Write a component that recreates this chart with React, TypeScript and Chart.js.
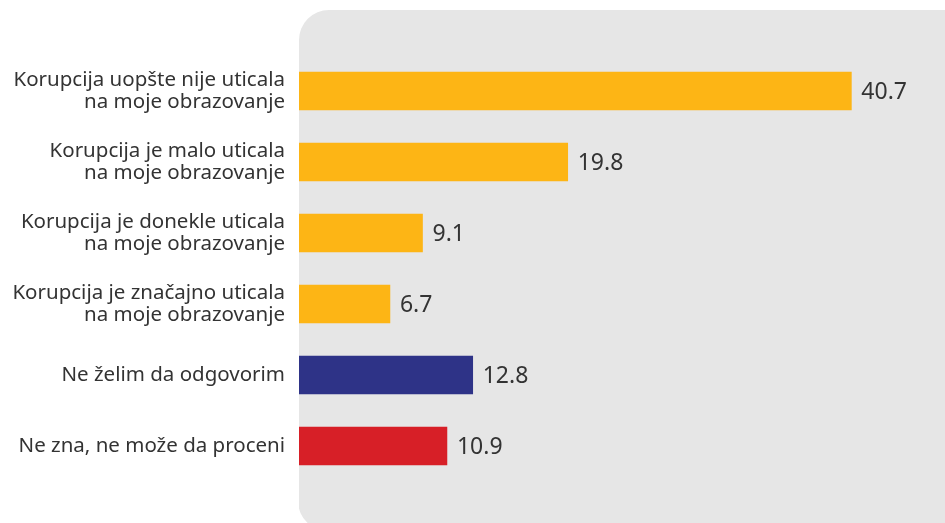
import React, { useEffect, useRef } from "react";
import { Chart, registerables } from "chart.js";

Chart.register(...registerables);

const categories: string[][] = [
  ["Korupcija uopšte nije uticala", "na moje obrazovanje"],
  ["Korupcija je malo uticala", "na moje obrazovanje"],
  ["Korupcija je donekle uticala", "na moje obrazovanje"],
  ["Korupcija je značajno uticala", "na moje obrazovanje"],
  ["Ne želim da odgovorim"],
  ["Ne zna, ne može da proceni"],
];
const values: number[] = [40.7, 19.8, 9.1, 6.7, 12.8, 10.9];
const barColors: string[] = ["#FDB515", "#FDB515", "#FDB515", "#FDB515", "#2E3387", "#D71F27"];

const FONT = "'Noto Sans', sans-serif";

const bgPlugin = {
  id: "bgPanel",
  beforeDraw(chart: any) {
    const { ctx, chartArea } = chart;
    const x = chartArea.left;
    const y = 10;
    const w = chart.width - x + 40;
    const h = chart.height - y + 40;
    const r = 30;
    ctx.save();
    ctx.fillStyle = "#E6E6E6";
    ctx.beginPath();
    ctx.moveTo(x + r, y);
    ctx.lineTo(x + w, y);
    ctx.lineTo(x + w, y + h);
    ctx.lineTo(x, y + h);
    ctx.lineTo(x, y + r);
    ctx.arcTo(x, y, x + r, y, r);
    ctx.closePath();
    ctx.fill();
    ctx.restore();
  },
};

const bgPlugin2 = {
  id: "bgPanelBottom",
  beforeDraw(chart: any) {
    const { ctx, chartArea } = chart;
    const x = chartArea.left;
    const bottom = chart.height + 8;
    const r = 30;
    ctx.save();
    ctx.fillStyle = "#FFFFFF";
    ctx.beginPath();
    ctx.moveTo(x - 1, bottom - r);
    ctx.arcTo(x, bottom, x + r, bottom, r);
    ctx.lineTo(x - 1, bottom);
    ctx.closePath();
    ctx.fill();
    ctx.restore();
  },
};

const valueLabels = {
  id: "valueLabels",
  afterDatasetsDraw(chart: any) {
    const { ctx } = chart;
    const meta = chart.getDatasetMeta(0);
    ctx.save();
    ctx.fillStyle = "#333333";
    ctx.font = `23px ${FONT}`;
    ctx.textAlign = "left";
    ctx.textBaseline = "middle";
    meta.data.forEach((bar: any, i: number) => {
      ctx.fillText(String(values[i]), bar.x + 10, bar.y + 1);
    });
    ctx.restore();
  },
};

export default function App() {
  const ref = useRef<HTMLCanvasElement | null>(null);
  useEffect(() => {
    if (!ref.current) return;
    const chart = new Chart(ref.current, {
      type: "bar",
      data: {
        labels: categories,
        datasets: [
          {
            data: values,
            backgroundColor: barColors,
            barThickness: 38,
            borderWidth: 0,
          },
        ],
      },
      options: {
        indexAxis: "y",
        animation: false,
        responsive: false,
        maintainAspectRatio: false,
        layout: { padding: { top: 55.5, bottom: 41.5, left: 0, right: 0 } },
        plugins: { legend: { display: false }, tooltip: { enabled: false } },
        scales: {
          x: { display: false, min: 0, max: 47.6 },
          y: {
            grid: { display: false, drawTicks: false },
            border: { display: false },
            ticks: {
              color: "#333333",
              padding: 14,
              font: { family: FONT, size: 20.5, lineHeight: "22.5px" },
            },
            afterFit(scale: any) {
              scale.width = 299;
            },
          },
        },
      },
      plugins: [bgPlugin, bgPlugin2, valueLabels],
    });
    return () => chart.destroy();
  }, []);
  return (
    <div style={{ position: "fixed", left: 0, top: 0, width: 945, height: 523, background: "#fff" }}>
      <canvas ref={ref} width={945} height={523} style={{ width: 945, height: 523 }} />
    </div>
  );
}
